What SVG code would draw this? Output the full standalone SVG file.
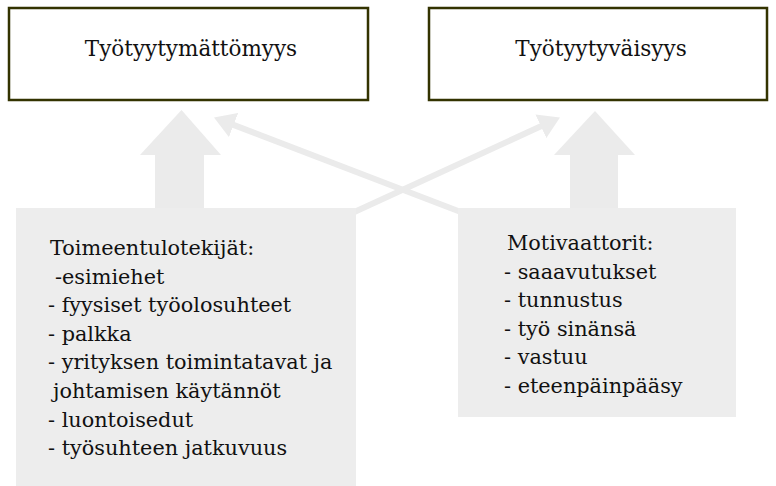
<svg xmlns="http://www.w3.org/2000/svg" width="776" height="486" viewBox="0 0 776 486">
  <defs>
    <style>
      .title { fill: #ffffff; stroke: #333300; stroke-width: 2.5; }
      .panel { fill: #ededed; stroke: none; }
      .block { fill: #ebebeb; stroke: none; }
      .link { stroke: #ebebeb; stroke-width: 6; fill: none; }
      .label { font-family: "DejaVu Serif", serif; font-size: 20.8px; fill: #111111; }
      .heading { font-family: "DejaVu Serif", serif; font-size: 21.5px; fill: #111111; }
    </style>
    <marker id="head" markerUnits="userSpaceOnUse" markerWidth="21" markerHeight="26" refX="3" refY="13" orient="auto">
      <path d="M0,0 L21,13 L0,26 z" fill="#ebebeb"/>
    </marker>
  </defs>

  <rect width="776" height="486" fill="#ffffff"/>

  <!-- connectors: two block arrows and two crossing thin arrows -->
  <g id="connectors">
    <path class="block" d="M155,210 L155,155 L140,155 L181.5,110 L221,155 L204,155 L204,210 z"/>
    <path class="block" d="M570,210 L570,155 L554,155 L595,111 L635,155 L618,155 L618,210 z"/>
    <line class="link" x1="350" y1="214" x2="543.6" y2="125" marker-end="url(#head)"/>
    <line class="link" x1="466" y1="214" x2="230.8" y2="123.9" marker-end="url(#head)"/>
  </g>

  <g id="dissatisfaction">
    <rect class="title" x="9" y="8" width="359" height="92"/>
    <text class="heading" x="191" y="56" text-anchor="middle">Työtyytymättömyys</text>
  </g>

  <g id="satisfaction">
    <rect class="title" x="429" y="8" width="338" height="92"/>
    <text class="heading" x="601" y="56" text-anchor="middle">Työtyytyväisyys</text>
  </g>

  <g id="hygiene-factors">
    <rect class="panel" x="16" y="208" width="340" height="278"/>
    <text class="label" x="50" y="255">Toimeentulotekijät:</text>
    <text class="label" x="55" y="283.6">-esimiehet</text>
    <text class="label" x="48" y="312.2">- fyysiset työolosuhteet</text>
    <text class="label" x="48" y="340.8">- palkka</text>
    <text class="label" x="48" y="369.4">- yrityksen toimintatavat ja</text>
    <text class="label" x="53" y="398">johtamisen käytännöt</text>
    <text class="label" x="48" y="426.6">- luontoisedut</text>
    <text class="label" x="48" y="455.2">- työsuhteen jatkuvuus</text>
  </g>

  <g id="motivators">
    <rect class="panel" x="458" y="208" width="278" height="209"/>
    <text class="label" x="507" y="250">Motivaattorit:</text>
    <text class="label" x="504" y="278.6">- saaavutukset</text>
    <text class="label" x="504" y="307.2">- tunnustus</text>
    <text class="label" x="504" y="335.8">- työ sinänsä</text>
    <text class="label" x="504" y="364.4">- vastuu</text>
    <text class="label" x="504" y="393">- eteenpäinpääsy</text>
  </g>
</svg>
